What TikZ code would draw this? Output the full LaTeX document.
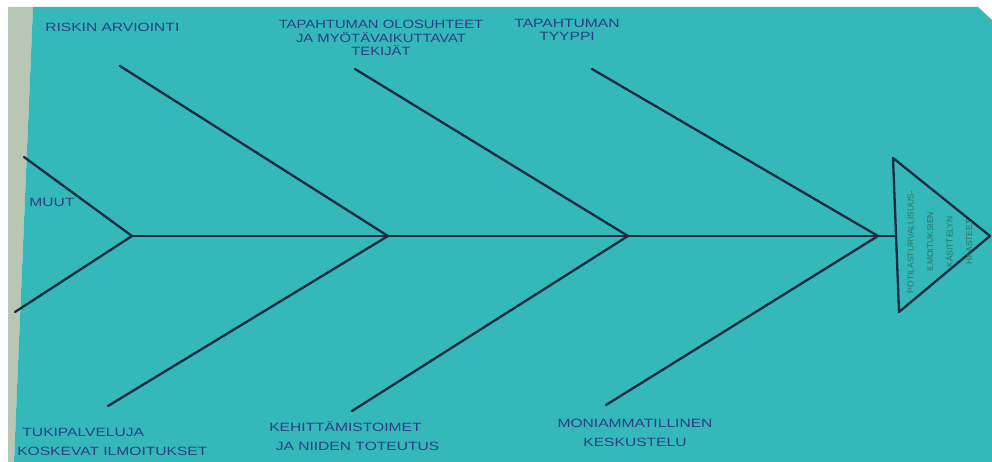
\documentclass[tikz,border=0pt]{standalone}
\usepackage{fontspec}
\setsansfont{Liberation Sans}
\usetikzlibrary{positioning}

\definecolor{paper}{HTML}{35B8B9}
\definecolor{strip}{HTML}{B9C6B4}
\definecolor{ink}{HTML}{1B2B42}
\definecolor{pen}{HTML}{2B3F86}
\definecolor{greenpen}{HTML}{2A7560}

\begin{document}
\begin{tikzpicture}[
        x=1pt, y=-1pt,
        line cap=round,
        line join=round]

        \tikzstyle{bone}=[
            draw = ink,
            line width = 2.3pt
        ]
        \tikzset{l/.style={font=\sffamily\fontsize{12}{13.5}\selectfont, text=pen, inner sep=0pt, align=center, xscale=1.3}}
        \tikzset{lb/.style={l, font=\sffamily\fontsize{12}{19.5}\selectfont}}
        \tikzset{h/.style={font=\sffamily\fontsize{8.5}{19.5}\selectfont, text=greenpen, inner sep=0pt, align=center, rotate=90}}

        \useasboundingbox (0,0) rectangle (992,462);
        % sheet of paper
        \fill[white] (0,0) rectangle (992,462);
        \fill[strip] (8,7) -- (33,7) -- (14,462) -- (8,462) -- cycle;
        \fill[paper] (33,7) -- (978,7) -- (992,20) -- (992,462) -- (14,462) -- cycle;

        % spine and head
        \coordinate (j1) at (132,236);
        \coordinate (j2) at (388,236);
        \coordinate (j3) at (628,236);
        \coordinate (j4) at (878,236);
        \coordinate (ta) at (893,158);
        \coordinate (tb) at (990,236);
        \coordinate (tc) at (899,312);
        \coordinate (t) at (896,236);
        \draw[bone] (j1) -- (t);
        \draw[bone] (ta) -- (tb) -- (tc) -- cycle;

        % bones
        \coordinate (u1) at (24,157);
        \coordinate (d1) at (15,312);
        \coordinate (u2) at (120,66);
        \coordinate (d2) at (108,406);
        \coordinate (u3) at (355,69);
        \coordinate (d3) at (352,411);
        \coordinate (u4) at (592,69);
        \coordinate (d4) at (606,405);
        \foreach \i in {1,2,3,4}{
            \draw[bone] (u\i) -- (j\i);
            \draw[bone] (d\i) -- (j\i);
        }

        % labels
        \node[l, anchor=west] (riski) at (45,27) {RISKIN ARVIOINTI};
        \node[l, xscale=0.95] (olo) at (381,38) {TAPAHTUMAN OLOSUHTEET\\JA MYÖTÄVAIKUTTAVAT\\TEKIJÄT};
        \node[l] (tyyppi) at (567,30) {TAPAHTUMAN\\TYYPPI};
        \node[l, anchor=west] (muut) at (29,202) {MUUT};
        \node[lb, anchor=west, align=left] (tuki) at (17,442) {\hspace{4pt}TUKIPALVELUJA\\KOSKEVAT ILMOITUKSET};
        \node[lb, anchor=west, align=left] (kehi) at (269,436) {KEHITTÄMISTOIMET\\\hspace{5pt}JA NIIDEN TOTEUTUS};
        \node[lb] (moni) at (635,433) {MONIAMMATILLINEN\\KESKUSTELU};
        \node[h] (aihe) at (940,242) {POTILASTURVALLISUUS-\\ILMOITUKSIEN\\KÄSITTELYN\\HAASTEET};
    \end{tikzpicture}
\end{document}
